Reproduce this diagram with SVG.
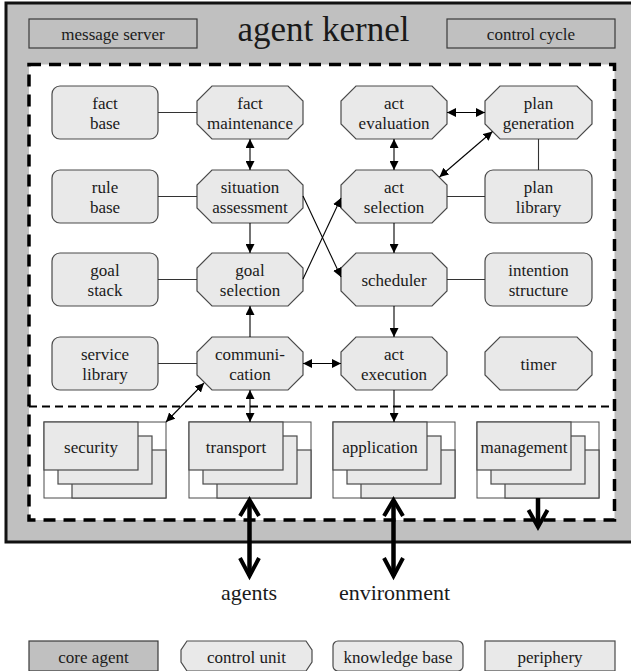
<svg xmlns="http://www.w3.org/2000/svg" width="631" height="671" viewBox="0 0 631 671">
<style>
.t{font-family:"Liberation Serif","DejaVu Serif","Noto Serif",Times,serif;fill:#1a1a1a;text-anchor:middle}
.n{font-size:17px}
.node{fill:#e9e9e9;stroke:#4a4a4a;stroke-width:1.2}
.hdr{fill:#c0c0c0;stroke:#3a3a3a;stroke-width:1.2}
.ln{stroke:#333;stroke-width:1.1;fill:none}
.ar{stroke:#000;stroke-width:1.1;fill:none;marker-end:url(#ah)}
.dar{stroke:#000;stroke-width:1.1;fill:none;marker-start:url(#ah);marker-end:url(#ah)}
.frame{fill:#fff;stroke:#4a4a4a;stroke-width:1}
.card{fill:#e9e9e9;stroke:#4a4a4a;stroke-width:1.2}
.thick{stroke:#000;stroke-width:4.5;fill:none}
.chev{stroke:#000;stroke-width:4;fill:none;stroke-linejoin:miter}
</style>
<defs>
<marker id="ah" viewBox="0 0 10 10" refX="10" refY="5" markerWidth="9" markerHeight="9" markerUnits="userSpaceOnUse" orient="auto-start-reverse">
<path d="M0,0 L10,5 L0,10 Z" fill="#000"/>
</marker>
</defs>

<g id="kernel">
<rect x="6" y="3" width="628" height="539" fill="#c0c0c0" stroke="#111" stroke-width="3"/>
<rect x="29" y="64.5" width="585.5" height="455.5" fill="#fff" stroke="#000" stroke-width="3.5" stroke-dasharray="12 8"/>
<line x1="29" y1="406.5" x2="614" y2="406.5" stroke="#000" stroke-width="2" stroke-dasharray="8 5"/>
<text class="t" x="323.5" y="41" font-size="35">agent kernel</text>
</g>

<g id="message-server" class="t n"><rect class="hdr" x="29" y="19" width="168" height="29"/><text x="113" y="39.5">message server</text></g>
<g id="control-cycle" class="t n"><rect class="hdr" x="447" y="19" width="168" height="29"/><text x="531" y="39.5">control cycle</text></g>

<g id="fact-base" class="t n"><rect class="node" x="52" y="86" width="106" height="53" rx="8"/><text x="105" y="108.5">fact</text><text x="105" y="129">base</text></g>
<g id="rule-base" class="t n"><rect class="node" x="52" y="170" width="106" height="53" rx="8"/><text x="105" y="192.5">rule</text><text x="105" y="213">base</text></g>
<g id="goal-stack" class="t n"><rect class="node" x="52" y="253" width="106" height="53" rx="8"/><text x="105" y="275.5">goal</text><text x="105" y="296">stack</text></g>
<g id="service-library" class="t n"><rect class="node" x="52" y="337" width="106" height="53" rx="8"/><text x="105" y="359.5">service</text><text x="105" y="380">library</text></g>

<g id="fact-maintenance" class="t n"><path class="node" d="M212,86 H288 L303,101 V124 L288,139 H212 L197,124 V101 Z"/><text x="250" y="108.5">fact</text><text x="250" y="129">maintenance</text></g>
<g id="situation-assessment" class="t n"><path class="node" d="M212,170 H288 L303,185 V208 L288,223 H212 L197,208 V185 Z"/><text x="250" y="192.5">situation</text><text x="250" y="213">assessment</text></g>
<g id="goal-selection" class="t n"><path class="node" d="M212,253 H288 L303,268 V291 L288,306 H212 L197,291 V268 Z"/><text x="250" y="275.5">goal</text><text x="250" y="296">selection</text></g>
<g id="communication" class="t n"><path class="node" d="M212,337 H288 L303,352 V375 L288,390 H212 L197,375 V352 Z"/><text x="250" y="359.5">communi-</text><text x="250" y="380">cation</text></g>

<g id="act-evaluation" class="t n"><path class="node" d="M356,86 H432 L447,101 V124 L432,139 H356 L341,124 V101 Z"/><text x="394" y="108.5">act</text><text x="394" y="129">evaluation</text></g>
<g id="act-selection" class="t n"><path class="node" d="M356,170 H432 L447,185 V208 L432,223 H356 L341,208 V185 Z"/><text x="394" y="192.5">act</text><text x="394" y="213">selection</text></g>
<g id="scheduler" class="t n"><path class="node" d="M356,253 H432 L447,268 V291 L432,306 H356 L341,291 V268 Z"/><text x="394" y="285.5">scheduler</text></g>
<g id="act-execution" class="t n"><path class="node" d="M356,337 H432 L447,352 V375 L432,390 H356 L341,375 V352 Z"/><text x="394" y="359.5">act</text><text x="394" y="380">execution</text></g>

<g id="plan-generation" class="t n"><path class="node" d="M500,86 H577 L592,101 V124 L577,139 H500 L485,124 V101 Z"/><text x="538.5" y="108.5">plan</text><text x="538.5" y="129">generation</text></g>
<g id="plan-library" class="t n"><rect class="node" x="485" y="170" width="107" height="53" rx="8"/><text x="538.5" y="192.5">plan</text><text x="538.5" y="213">library</text></g>
<g id="intention-structure" class="t n"><rect class="node" x="485" y="253" width="107" height="53" rx="8"/><text x="538.5" y="275.5">intention</text><text x="538.5" y="296">structure</text></g>
<g id="timer" class="t n"><path class="node" d="M500,337 H577 L592,352 V375 L577,390 H500 L485,375 V352 Z"/><text x="538.5" y="369.5">timer</text></g>

<g id="security" class="t n"><rect class="frame" x="44" y="422" width="122" height="76"/><rect class="card" x="72" y="450" width="94" height="48"/><rect class="card" x="58" y="436" width="94" height="48"/><rect class="card" x="44" y="422" width="94" height="48"/><text x="91" y="453">security</text></g>
<g id="transport" class="t n"><rect class="frame" x="189" y="422" width="122" height="76"/><rect class="card" x="217" y="450" width="94" height="48"/><rect class="card" x="203" y="436" width="94" height="48"/><rect class="card" x="189" y="422" width="94" height="48"/><text x="236" y="453">transport</text></g>
<g id="application" class="t n"><rect class="frame" x="333" y="422" width="122" height="76"/><rect class="card" x="361" y="450" width="94" height="48"/><rect class="card" x="347" y="436" width="94" height="48"/><rect class="card" x="333" y="422" width="94" height="48"/><text x="380" y="453">application</text></g>
<g id="management" class="t n"><rect class="frame" x="477" y="422" width="122" height="76"/><rect class="card" x="505" y="450" width="94" height="48"/><rect class="card" x="491" y="436" width="94" height="48"/><rect class="card" x="477" y="422" width="94" height="48"/><text x="524" y="453">management</text></g>

<g id="connectors">
<line class="ln" x1="158" y1="112.5" x2="197" y2="112.5"/>
<line class="ln" x1="158" y1="196.5" x2="197" y2="196.5"/>
<line class="ln" x1="158" y1="279.5" x2="197" y2="279.5"/>
<line class="ln" x1="158" y1="363.5" x2="197" y2="363.5"/>
<line class="ln" x1="447" y1="196.5" x2="485" y2="196.5"/>
<line class="ln" x1="447" y1="279.5" x2="485" y2="279.5"/>
<line class="ln" x1="538.5" y1="139" x2="538.5" y2="170"/>
<line class="dar" x1="250" y1="139" x2="250" y2="170"/>
<line class="dar" x1="447" y1="112.5" x2="485" y2="112.5"/>
<line class="dar" x1="394" y1="139" x2="394" y2="170"/>
<line class="dar" x1="439.5" y1="177" x2="492.5" y2="131.5"/>
<line class="ar" x1="250" y1="223" x2="250" y2="253"/>
<line class="ar" x1="394" y1="223" x2="394" y2="253"/>
<line class="ar" x1="303" y1="196" x2="341" y2="277"/>
<line class="ar" x1="303" y1="279" x2="341" y2="198"/>
<line class="ar" x1="250" y1="337" x2="250" y2="306"/>
<line class="ar" x1="394" y1="306" x2="394" y2="337"/>
<line class="dar" x1="303" y1="363.5" x2="341" y2="363.5"/>
<line class="dar" x1="204" y1="383" x2="166" y2="422"/>
<line class="dar" x1="250" y1="390" x2="250" y2="422"/>
<line class="ar" x1="394" y1="390" x2="394" y2="422"/>
<line class="thick" x1="249.5" y1="500" x2="249.5" y2="576"/>
<polyline class="chev" points="240,516 249.5,500 259,516"/>
<polyline class="chev" points="240,558 249.5,576 259,558"/>
<line class="thick" x1="393.5" y1="500" x2="393.5" y2="576"/>
<polyline class="chev" points="384,516 393.5,500 403,516"/>
<polyline class="chev" points="384,558 393.5,576 403,558"/>
<line class="thick" x1="538" y1="498" x2="538" y2="526"/>
<polyline class="chev" points="528.5,510 538,527 547.5,510"/>
</g>

<g id="agents-label"><text class="t" x="249" y="600" font-size="22">agents</text></g>
<g id="environment-label"><text class="t" x="394.5" y="600" font-size="22">environment</text></g>

<g id="legend" class="t n">
<g id="legend-core"><rect x="29" y="641" width="129" height="30" fill="#c0c0c0" stroke="#3a3a3a" stroke-width="1.2"/><text x="93.5" y="663">core agent</text></g>
<g id="legend-control"><path class="node" d="M187,641 H306 L312,650 V662 L306,671 H187 L181,662 V650 Z"/><text x="246.5" y="663">control unit</text></g>
<g id="legend-knowledge"><rect class="node" x="333" y="641" width="130" height="30" rx="5"/><text x="398" y="663">knowledge base</text></g>
<g id="legend-periphery"><rect class="node" x="485" y="641" width="130" height="30"/><text x="550" y="663">periphery</text></g>
</g>
</svg>
